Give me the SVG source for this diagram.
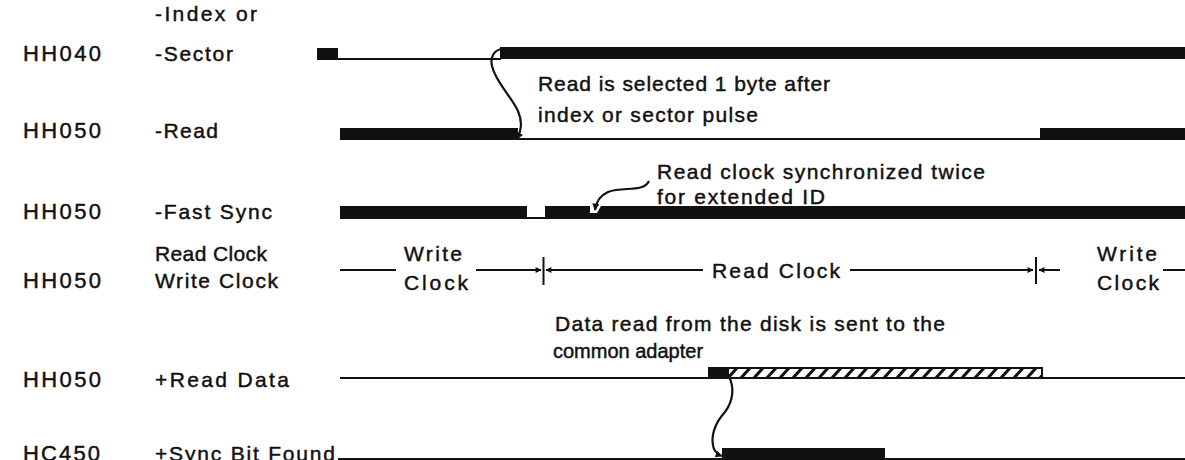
<svg xmlns="http://www.w3.org/2000/svg" width="1185" height="460" viewBox="0 0 1185 460">
<style>
text{font-family:"Liberation Sans",Arial,sans-serif;font-size:21px;fill:#111;stroke:#111;stroke-width:0.45;}
.lbl{font-size:22px;}
.sm{font-size:20px;}
.thin{stroke:#111;stroke-width:2;fill:none;}
.bar{fill:#111;}
.curve{stroke:#111;stroke-width:2.2;fill:none;}
</style>
<defs>
<marker id="ah" viewBox="0 0 10 10" refX="9" refY="5" markerWidth="8" markerHeight="6" markerUnits="userSpaceOnUse" orient="auto"><path d="M0,0 L10,5 L0,10 z" fill="#111"/></marker>
<marker id="ah2" viewBox="0 0 10 10" refX="9" refY="5" markerWidth="9" markerHeight="7" markerUnits="userSpaceOnUse" orient="auto"><path d="M0,0 L10,5 L0,10 z" fill="#111"/></marker>
<pattern id="hatch" patternUnits="userSpaceOnUse" x="727" y="368" width="13" height="10"><line x1="1" y1="10" x2="10" y2="0" stroke="#111" stroke-width="3"/></pattern>
</defs>
<rect width="1185" height="460" fill="#fff"/>
<g id="labels">
<text x="155" y="21" textLength="102" lengthAdjust="spacing">-Index or</text>
<text class="lbl" x="23" y="61" textLength="78" lengthAdjust="spacing">HH040</text>
<text x="155" y="61" textLength="78" lengthAdjust="spacing">-Sector</text>
<text class="lbl" x="23" y="138" textLength="78" lengthAdjust="spacing">HH050</text>
<text x="155" y="138" textLength="63" lengthAdjust="spacing">-Read</text>
<text class="lbl" x="23" y="219" textLength="78" lengthAdjust="spacing">HH050</text>
<text x="155" y="219" textLength="117" lengthAdjust="spacing">-Fast Sync</text>
<text x="155" y="261" textLength="112" lengthAdjust="spacing">Read Clock</text>
<text class="lbl" x="23" y="288" textLength="78" lengthAdjust="spacing">HH050</text>
<text x="155" y="288" textLength="123" lengthAdjust="spacing">Write Clock</text>
<text class="lbl" x="23" y="387" textLength="78" lengthAdjust="spacing">HH050</text>
<text x="155" y="387" textLength="134" lengthAdjust="spacing">+Read Data</text>
<text class="lbl" x="23" y="461" textLength="77" lengthAdjust="spacing">HC450</text>
<text x="155" y="461" textLength="180" lengthAdjust="spacing">+Sync Bit Found</text>
</g>
<g id="sig-index">
<rect class="bar" x="317" y="48" width="21" height="12"/>
<line class="thin" x1="337" y1="59" x2="501" y2="59"/>
<rect class="bar" x="500" y="47" width="685" height="12"/>
</g>
<g id="sig-read">
<rect class="bar" x="340" y="128" width="178" height="12"/>
<line class="thin" x1="517" y1="139" x2="1041" y2="139"/>
<rect class="bar" x="1040" y="128" width="145" height="12"/>
</g>
<g id="sig-fastsync">
<rect class="bar" x="340" y="206" width="187" height="13"/>
<line class="thin" x1="526" y1="218" x2="546" y2="218"/>
<rect class="bar" x="545" y="206" width="45" height="13"/>
<path class="bar" d="M590,219 L590,213 L597,213 L601,206 L1185,206 L1185,219 z"/>
</g>
<g id="sig-clock">
<line class="thin" x1="340" y1="270" x2="396" y2="270"/>
<text x="404" y="261" textLength="58" lengthAdjust="spacing">Write</text>
<text x="404" y="290" textLength="64" lengthAdjust="spacing">Clock</text>
<line class="thin" x1="476" y1="270" x2="541" y2="270" marker-end="url(#ah)"/>
<line class="thin" x1="543.5" y1="257" x2="543.5" y2="285"/>
<line class="thin" x1="703" y1="270" x2="546" y2="270" marker-end="url(#ah)"/>
<text x="712" y="278" textLength="128" lengthAdjust="spacing">Read Clock</text>
<line class="thin" x1="850" y1="270" x2="1033" y2="270" marker-end="url(#ah)"/>
<line class="thin" x1="1036" y1="257" x2="1036" y2="284"/>
<line class="thin" x1="1060" y1="270" x2="1039" y2="270" marker-end="url(#ah)"/>
<text x="1097" y="261" textLength="60" lengthAdjust="spacing">Write</text>
<text x="1097" y="290" textLength="62" lengthAdjust="spacing">Clock</text>
<line class="thin" x1="1163" y1="270" x2="1185" y2="270"/>
</g>
<g id="sig-readdata">
<line class="thin" x1="340" y1="378" x2="709" y2="378"/>
<rect class="bar" x="708" y="367" width="20" height="12"/>
<rect x="728" y="368" width="314" height="10" fill="url(#hatch)" stroke="#111" stroke-width="2"/>
<line class="thin" x1="1042" y1="378" x2="1185" y2="378"/>
</g>
<g id="sig-syncbit">
<line class="thin" x1="338" y1="459" x2="1185" y2="459"/>
<rect class="bar" x="722" y="448" width="163" height="12"/>
</g>
<g id="notes">
<text x="538" y="91" textLength="292" lengthAdjust="spacing">Read is selected 1 byte after</text>
<text x="538" y="122" textLength="220" lengthAdjust="spacing">index or sector pulse</text>
<text x="657" y="179" textLength="328" lengthAdjust="spacing">Read clock synchronized twice</text>
<text x="657" y="204" textLength="168" lengthAdjust="spacing">for extended ID</text>
<text x="555" y="331" textLength="390" lengthAdjust="spacing">Data read from the disk is sent to the</text>
<text class="sm" x="553" y="358">common adapter</text>
</g>
<g id="connectors">
<path class="curve" d="M502,49 C494,50 490,57 492,66 C495,81 511,96 518,111 C523,123 521,131 517,139" marker-end="url(#ah2)"/>
<path class="curve" d="M649,181 C643,193 623,186 608,192 C599,196 596,202 595,210" marker-end="url(#ah2)"/>
<path class="curve" d="M729,377 C734,386 734,400 725,412 C714,424 710,438 714,449 C716,453 719,455 722,456" marker-end="url(#ah2)"/>
</g>
</svg>
